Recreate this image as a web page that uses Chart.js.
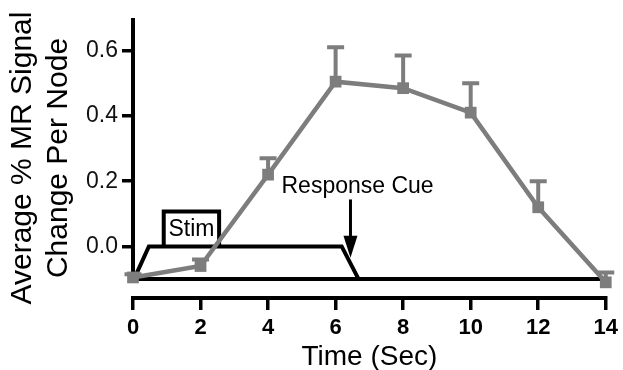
<!DOCTYPE html>
<html lang="en">
<head>
<meta charset="UTF-8">
<title>MR Signal Change</title>
<script src="https://cdn.jsdelivr.net/npm/chart.js"></script>
<style>
  body { margin: 0; background: #fff; }
  .chart-box { width: 623px; height: 370px; position: relative; }
</style>
</head>
<body>
<div class="chart-box"><canvas id="myChart"></canvas></div>

<script>
// values
const timeSec = [0, 2, 4, 6, 8, 10, 12, 14];
const meanSignal = [-0.095, -0.06, 0.22, 0.505, 0.485, 0.41, 0.12, -0.11];
const errUpper = [0.01, 0.02, 0.05, 0.105, 0.10, 0.09, 0.08, 0.03];

const xTicks = [0, 2, 4, 6, 8, 10, 12, 14];
const yTicks = [0, 0.2, 0.4, 0.6];

// stimulus trace drawn under the curve
const baseX = [0, 14];
const baseY = [-0.1, -0.1];
const stimX = [0.03, 0.47, 6.18, 6.68];
const stimY = [-0.1, 0, 0, -0.1];
const boxX = [0.91, 0.91, 2.55, 2.55];
const boxY = [0, 0.107, 0.107, 0];

const FONT = '"Liberation Sans", Arial, Helvetica, sans-serif';
const GRAY = '#7d7d7d';

function pts(xs, ys) {
  return xs.map(function (v, i) { return { x: v, y: ys[i] }; });
}

const extras = {
  id: 'extras',
  beforeDatasetsDraw(chart) {
    const { ctx } = chart;
    const x = chart.scales.x, y = chart.scales.y;
    ctx.save();
    // y axis line only down to the baseline
    ctx.strokeStyle = '#000';
    ctx.lineWidth = 4;
    ctx.beginPath();
    ctx.moveTo(x.getPixelForValue(0), y.getPixelForValue(0.7));
    ctx.lineTo(x.getPixelForValue(0), y.getPixelForValue(-0.1) + 2);
    ctx.stroke();

    ctx.fillStyle = '#000';
    ctx.font = '23px ' + FONT;
    ctx.textAlign = 'center';
    ctx.textBaseline = 'middle';
    ctx.fillText('Stim', x.getPixelForValue(1.73), y.getPixelForValue(0.05));
    ctx.fillText('Response Cue', x.getPixelForValue(6.65), y.getPixelForValue(0.184));

    // arrow
    const ax = x.getPixelForValue(6.44);
    const ay0 = y.getPixelForValue(0.144);
    const ay1 = y.getPixelForValue(-0.035);
    ctx.lineWidth = 3;
    ctx.beginPath();
    ctx.moveTo(ax, ay0);
    ctx.lineTo(ax, ay1 - 18);
    ctx.stroke();
    ctx.beginPath();
    ctx.moveTo(ax - 7, ay1 - 22);
    ctx.lineTo(ax + 7, ay1 - 22);
    ctx.lineTo(ax, ay1);
    ctx.closePath();
    ctx.fill();
    ctx.restore();
  },
  afterDatasetsDraw(chart) {
    const { ctx } = chart;
    const x = chart.scales.x, y = chart.scales.y;
    ctx.save();
    ctx.strokeStyle = GRAY;
    ctx.lineWidth = 4;
    for (let i = 0; i < timeSec.length; i++) {
      const px = x.getPixelForValue(timeSec[i]);
      const p0 = y.getPixelForValue(meanSignal[i]);
      const p1 = y.getPixelForValue(meanSignal[i] + errUpper[i]);
      ctx.beginPath();
      ctx.moveTo(px, p0);
      ctx.lineTo(px, p1);
      ctx.moveTo(px - 8.5, p1);
      ctx.lineTo(px + 8.5, p1);
      ctx.stroke();
    }
    ctx.restore();
  }
};

const ctx = document.getElementById('myChart');

new Chart(ctx, {
  type: 'line',
  data: {
    datasets: [{
      data: pts(timeSec, meanSignal),
      borderColor: GRAY,
      backgroundColor: GRAY,
      borderWidth: 4.5,
      pointStyle: 'rect',
      pointRadius: 8.3,
      pointBorderWidth: 0,
      order: 0,
      clip: false
    }, {
      data: pts(baseX, baseY),
      borderColor: '#000',
      borderWidth: 4,
      pointRadius: 0,
      order: 1,
      clip: false
    }, {
      data: pts(stimX, stimY),
      borderColor: '#000',
      borderWidth: 4,
      pointRadius: 0,
      borderJoinStyle: 'miter',
      order: 1,
      clip: false
    }, {
      data: pts(boxX, boxY),
      borderColor: '#000',
      borderWidth: 4,
      pointRadius: 0,
      borderJoinStyle: 'miter',
      order: 1,
      clip: false
    }]
  },
  options: {
    responsive: true,
    maintainAspectRatio: false,
    animation: false,
    layout: { padding: { left: 0, top: 18, right: 12, bottom: 0 } },
    plugins: { legend: { display: false }, tooltip: { enabled: false } },
    scales: {
      x: {
        type: 'linear',
        min: 0,
        max: 14,
        afterBuildTicks: function (s) { s.ticks = xTicks.map(function (v) { return { value: v }; }); },
        afterFit: function (s) { s.height = 72; },
        border: { display: true, color: '#000', width: 4 },
        grid: { drawOnChartArea: false, color: '#000', lineWidth: 3.5, tickLength: 12 },
        ticks: { color: '#000', padding: 5, font: { family: FONT, size: 22, weight: 'bold' } },
        title: {
          display: true,
          text: 'Time (Sec)',
          color: '#000',
          padding: { top: 0, bottom: -4 },
          font: { family: FONT, size: 28 }
        }
      },
      y: {
        min: -0.158,
        max: 0.7,
        afterBuildTicks: function (s) { s.ticks = yTicks.map(function (v) { return { value: v }; }); },
        afterFit: function (s) { s.width = 133; },
        border: { display: false },
        grid: { drawOnChartArea: false, color: '#000', lineWidth: 3.5, tickLength: 11 },
        ticks: {
          color: '#111',
          padding: 4,
          font: { family: FONT, size: 23 },
          callback: function (v) { return v.toFixed(1); }
        },
        title: {
          display: true,
          text: ['Average % MR Signal', 'Change Per Node'],
          color: '#000',
          padding: { top: 5, bottom: 0 },
          font: { family: FONT, size: 30 }
        }
      }
    }
  },
  plugins: [extras]
});
</script>
</body>
</html>
